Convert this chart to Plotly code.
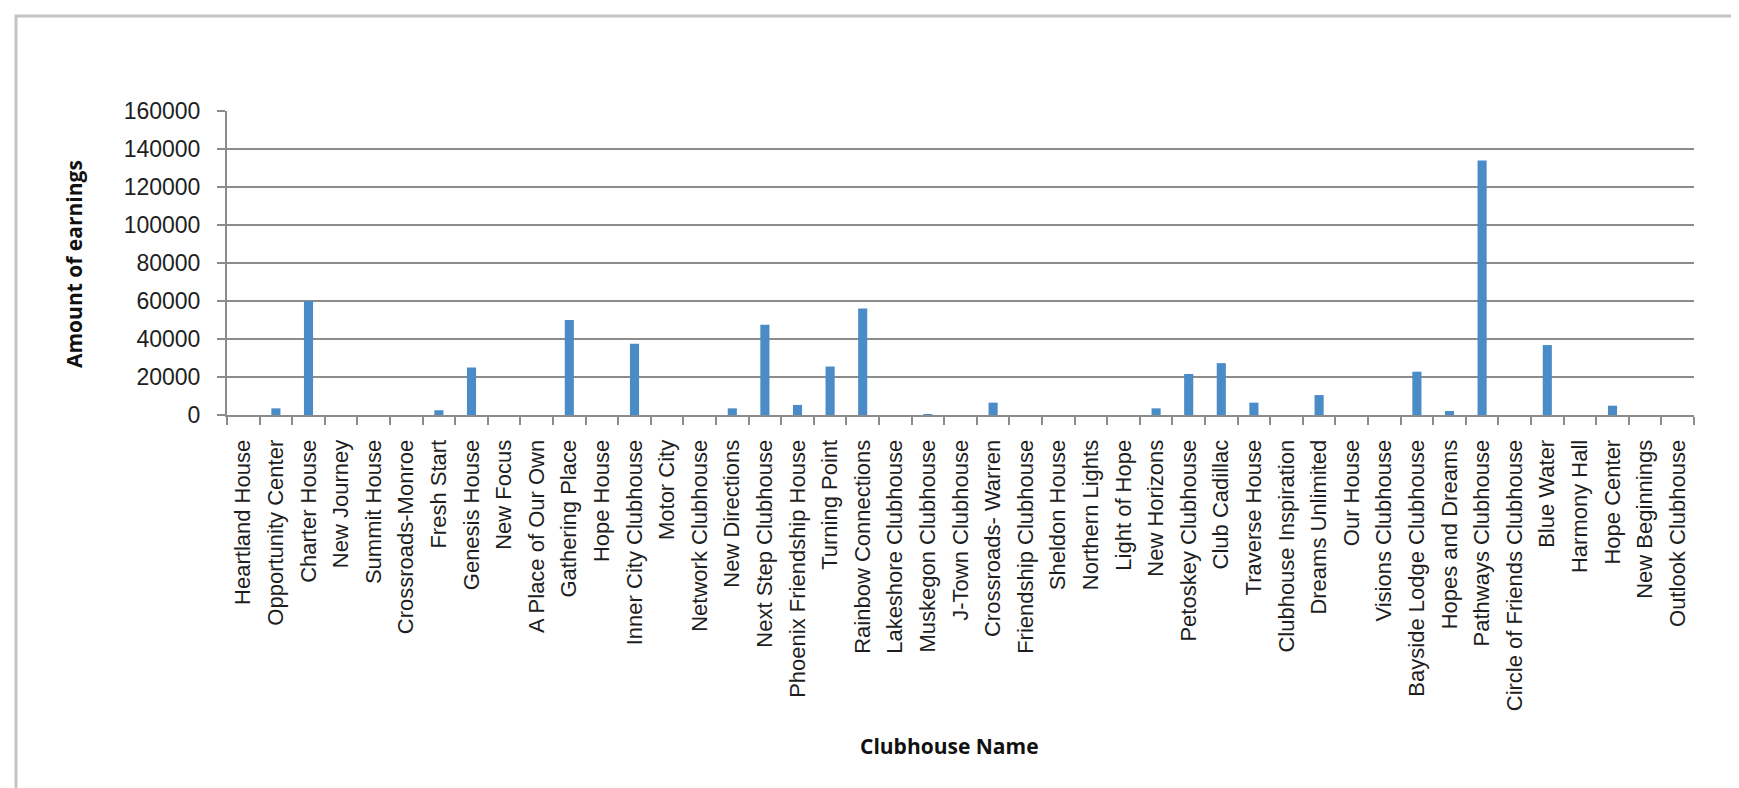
import plotly.graph_objects as go

clubhouses = ["Heartland House", "Opportunity Center", "Charter House", "New Journey", "Summit House",
              "Crossroads-Monroe", "Fresh Start", "Genesis House", "New Focus", "A Place of Our Own",
              "Gathering Place", "Hope House", "Inner City Clubhouse", "Motor City", "Network Clubhouse",
              "New Directions", "Next Step Clubhouse", "Phoenix Friendship House", "Turning Point",
              "Rainbow Connections", "Lakeshore Clubhouse", "Muskegon Clubhouse", "J-Town Clubhouse",
              "Crossroads- Warren", "Friendship Clubhouse", "Sheldon House", "Northern Lights",
              "Light of Hope", "New Horizons", "Petoskey Clubhouse", "Club Cadillac", "Traverse House",
              "Clubhouse Inspiration", "Dreams Unlimited", "Our House", "Visions Clubhouse",
              "Bayside Lodge Clubhouse", "Hopes and Dreams", "Pathways Clubhouse",
              "Circle of Friends Clubhouse", "Blue Water", "Harmony Hall", "Hope Center",
              "New Beginnings", "Outlook Clubhouse"]

earnings = [0, 3500, 60000, 0, 0,
            0, 2500, 25000, 0, 0,
            50000, 0, 37500, 0, 0,
            3500, 47500, 5300, 25500,
            56000, 0, 500, 0,
            6500, 0, 0, 0,
            0, 3500, 21600, 27300, 6500,
            0, 10500, 0, 0,
            22800, 2100, 134000,
            0, 36800, 0, 4900,
            0, 0]

y_ticks = [0, 20000, 40000, 60000, 80000, 100000, 120000, 140000, 160000]

W, H = 1739, 788
L, R, T, B = 219, 1686, 103, 407  # plot area in pixels


def px_to_paper(x, y):
    return (x - L) / (R - L), (B - y) / (B - T)


fig = go.Figure(go.Bar(
    x=clubhouses, y=earnings,
    marker=dict(color="#4a8cc8", line=dict(width=0)),
))

grid = "#8c8c8c"
fig.update_layout(
    width=W, height=H,
    margin=dict(l=L, r=W - R, t=T, b=H - B),
    paper_bgcolor="white", plot_bgcolor="white",
    bargap=0.72,
    showlegend=False,
    font=dict(family="Liberation Sans, Arial, sans-serif", size=22, color="#1e1e1e"),
)
fig.update_xaxes(
    type="category", tickangle=-90, tickson="boundaries",
    ticks="outside", ticklen=8, tickwidth=2, tickcolor=grid,
    showline=True, linecolor=grid, linewidth=2,
    showgrid=False, ticklabelstandoff=14,
    tickfont=dict(size=22),
)
fig.update_yaxes(
    range=[0, 160000], tickvals=y_ticks, ticktext=[str(v) for v in y_ticks],
    ticks="outside", ticklen=8, tickwidth=2, tickcolor=grid,
    showline=True, linecolor=grid, linewidth=2,
    showgrid=True, gridcolor=grid, gridwidth=2,
    zeroline=False, ticklabelstandoff=12,
    tickfont=dict(size=23),
)

# outer chart border
x0, y0 = px_to_paper(8, 8)
x1, y1 = px_to_paper(1736, 800)
fig.add_shape(type="rect", xref="paper", yref="paper", x0=x0, y0=y1, x1=x1, y1=y0,
              line=dict(color="#c4c4c4", width=3), fillcolor="rgba(0,0,0,0)", layer="below")

title_font = dict(family="Open Sans, sans-serif", size=21, color="#111111")
tx, ty = px_to_paper(941, 738)
fig.add_annotation(text="<b>Clubhouse Name</b>", xref="paper", yref="paper", x=tx, y=ty,
                   showarrow=False, xanchor="center", yanchor="middle", font=title_font)
yx, yy = px_to_paper(66, 256)
fig.add_annotation(text="<b>Amount of earnings</b>", xref="paper", yref="paper", x=yx, y=yy,
                   showarrow=False, xanchor="center", yanchor="middle", textangle=-90, font=title_font)

fig.write_html("out.html")
